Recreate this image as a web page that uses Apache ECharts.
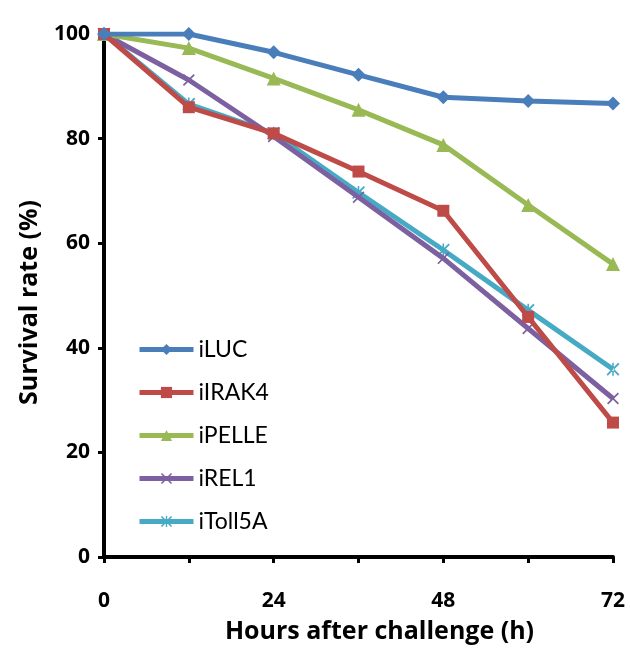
<!DOCTYPE html>
<html>
<head>
<meta charset="utf-8">
<script src="https://cdn.jsdelivr.net/npm/echarts@6/dist/echarts.min.js"></script>
<style>
  html, body { margin: 0; padding: 0; background: #fff; }
  #main { width: 630px; height: 653px; }
</style>
</head>
<body>
<div id="main"></div>
<script>
// hours after challenge
var hours = [0, 12, 24, 36, 48, 60, 72];
var seriesNames = ['iLUC', 'iIRAK4', 'iPELLE', 'iREL1', 'iToll5A'];
var iLUC = [100, 100, 96.5, 92.2, 87.9, 87.2, 86.7];
var iIRAK4 = [100, 86.0, 81.0, 73.7, 66.2, 45.9, 25.7];
var iPELLE = [100, 97.3, 91.5, 85.5, 78.8, 67.3, 56.0];
var iREL1 = [100, 91.2, 80.4, 68.8, 57.1, 43.7, 30.3];
var iToll5A = [100, 86.6, 81.0, 69.7, 58.7, 47.2, 35.9];
var xTickLabels = [0, 24, 48, 72];
var yTickLabels = [0, 20, 40, 60, 80, 100];

var colors = ['#4A7EBB', '#BE4B48', '#98B954', '#7D60A0', '#46AAC5'];
var xPath = 'path://M0,1 L1,0 L5,4 L9,0 L10,1 L6,5 L10,9 L9,10 L5,6 L1,10 L0,9 L4,5 Z';
var starPath = 'path://M0,1 L1,0 L5,4 L9,0 L10,1 L6,5 L10,9 L9,10 L5,6 L1,10 L0,9 L4,5 Z M4.4,0 L4.4,10 L5.6,10 L5.6,0 Z';
var symbols = ['diamond', 'rect', 'triangle', xPath, starPath];
var symbolSizes = [14, 12, 14, 12, 13];
var allData = [iLUC, iIRAK4, iPELLE, iREL1, iToll5A];

function pairs(vals) {
    return hours.map(function (h, i) { return [h, vals[i]]; });
}

var chart = echarts.init(document.getElementById('main'));

var option = {
    backgroundColor: '#fff',
    animation: false,
    color: colors,
    grid: { left: 104, right: 17, top: 34, bottom: 96 },
    legend: {
        orient: 'vertical',
        left: 132,
        top: 333,
        itemWidth: 54,
        itemHeight: 14,
        itemGap: 20,
        data: seriesNames,
        lineStyle: { width: 5 },
        textStyle: { fontFamily: 'Lato', fontSize: 23, color: '#000' }
    },
    xAxis: {
        type: 'value',
        min: 0,
        max: 72,
        interval: 12,
        splitLine: { show: false },
        axisLine: { onZero: false, lineStyle: { color: '#000', width: 4 } },
        axisTick: { length: 6, lineStyle: { color: '#000', width: 3 } },
        axisLabel: {
            margin: 34,
            fontFamily: 'Open Sans',
            fontWeight: 'bold',
            fontSize: 21,
            color: '#000',
            formatter: function (v) { return xTickLabels.indexOf(v) >= 0 ? String(v) : ''; }
        },
        name: 'Hours after challenge (h)',
        nameLocation: 'middle',
        nameGap: 62,
        nameTextStyle: {
            fontFamily: 'Open Sans', fontWeight: 'bold', fontSize: 25, color: '#000',
            padding: [0, 0, 0, 42]
        }
    },
    yAxis: {
        type: 'value',
        min: 0,
        max: 100,
        interval: 20,
        splitLine: { show: false },
        axisLine: { show: true, lineStyle: { color: '#000', width: 4 } },
        axisTick: { show: true, length: 6, lineStyle: { color: '#000', width: 3 } },
        axisLabel: {
            margin: 14,
            fontFamily: 'Open Sans',
            fontWeight: 'bold',
            fontSize: 21,
            color: '#000',
            formatter: function (v) { return yTickLabels.indexOf(v) >= 0 ? String(v) : ''; }
        },
        name: 'Survival rate (%)',
        nameLocation: 'middle',
        nameGap: 62,
        nameTextStyle: {
            fontFamily: 'Open Sans', fontWeight: 'bold', fontSize: 25, color: '#000',
            padding: [0, 14, 0, 0]
        }
    },
    series: seriesNames.map(function (name, i) {
        return {
            name: name,
            type: 'line',
            data: pairs(allData[i]),
            symbol: symbols[i],
            symbolSize: symbolSizes[i],
            showAllSymbol: true,
            lineStyle: { width: 5, color: colors[i] },
            itemStyle: { color: colors[i] },
            z: 10 - i
        };
    })
};

chart.setOption(option);
</script>
</body>
</html>
